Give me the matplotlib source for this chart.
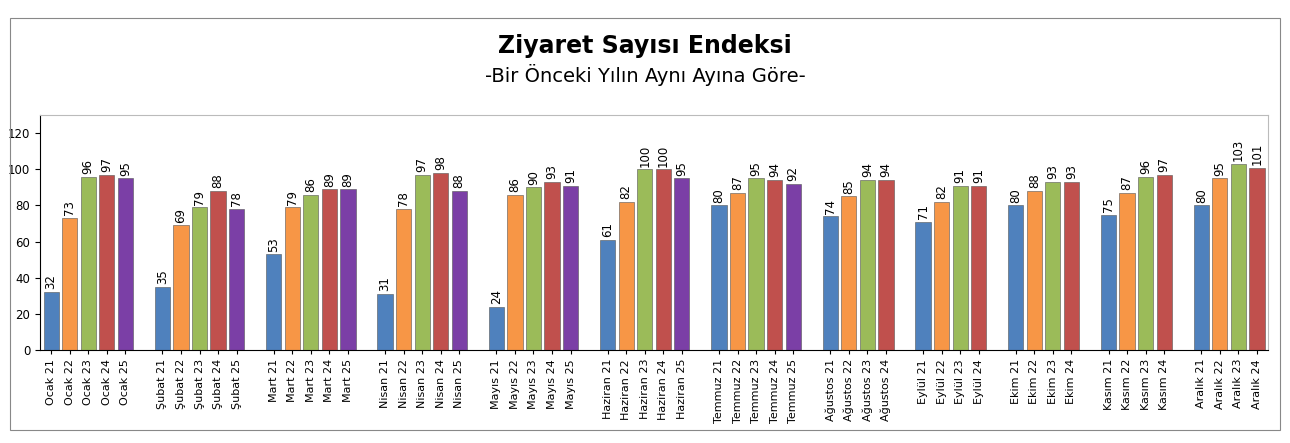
import matplotlib
matplotlib.use("Agg")
import matplotlib.pyplot as plt

months = ["Ocak", "Şubat", "Mart", "Nisan", "Mayıs", "Haziran", "Temmuz",
          "Ağustos", "Eylül", "Ekim", "Kasım", "Aralık"]
years = ["21", "22", "23", "24", "25"]
values = [
    [32, 73, 96, 97, 95],
    [35, 69, 79, 88, 78],
    [53, 79, 86, 89, 89],
    [31, 78, 97, 98, 88],
    [24, 86, 90, 93, 91],
    [61, 82, 100, 100, 95],
    [80, 87, 95, 94, 92],
    [74, 85, 94, 94],
    [71, 82, 91, 91],
    [80, 88, 93, 93],
    [75, 87, 96, 97],
    [80, 95, 103, 101],
]
colors = ["#4F81BD", "#F79646", "#9BBB59", "#C0504D", "#7B3FA6"]

fig = plt.figure(figsize=(12.9, 4.43), dpi=100)
fig.patches.append(plt.Rectangle((0.008, 0.03), 0.984, 0.93, transform=fig.transFigure,
                                 fill=False, edgecolor="#888888", lw=0.8))
ax = fig.add_axes([0.031, 0.21, 0.952, 0.53])

xs, labels = [], []
pos = 0
for m, vals in zip(months, values):
    for i, v in enumerate(vals):
        ax.bar(pos, v, width=0.82, color=colors[i], edgecolor="#555555", linewidth=0.4)
        ax.text(pos, v + 1.5, str(v), rotation=90, ha="center", va="bottom", fontsize=8.5)
        xs.append(pos)
        labels.append(f"{m} {years[i]}")
        pos += 1
    pos += 1

ax.set_xlim(-0.6, pos - 1.4)
ax.set_ylim(0, 130)
ax.set_yticks(range(0, 121, 20))
ax.set_xticks(xs)
ax.set_xticklabels(labels, rotation=90, fontsize=8)
ax.tick_params(axis="y", labelsize=8.5)
ax.tick_params(axis="x", length=3)
for s in ["top", "right"]:
    ax.spines[s].set_color("#bbbbbb")
fig.text(0.5, 0.88, "Ziyaret Sayısı Endeksi", ha="center", fontsize=17, fontweight="bold")
fig.text(0.5, 0.815, "-Bir Önceki Yılın Aynı Ayına Göre-", ha="center", fontsize=14)
fig.savefig("out.png", dpi=100)
